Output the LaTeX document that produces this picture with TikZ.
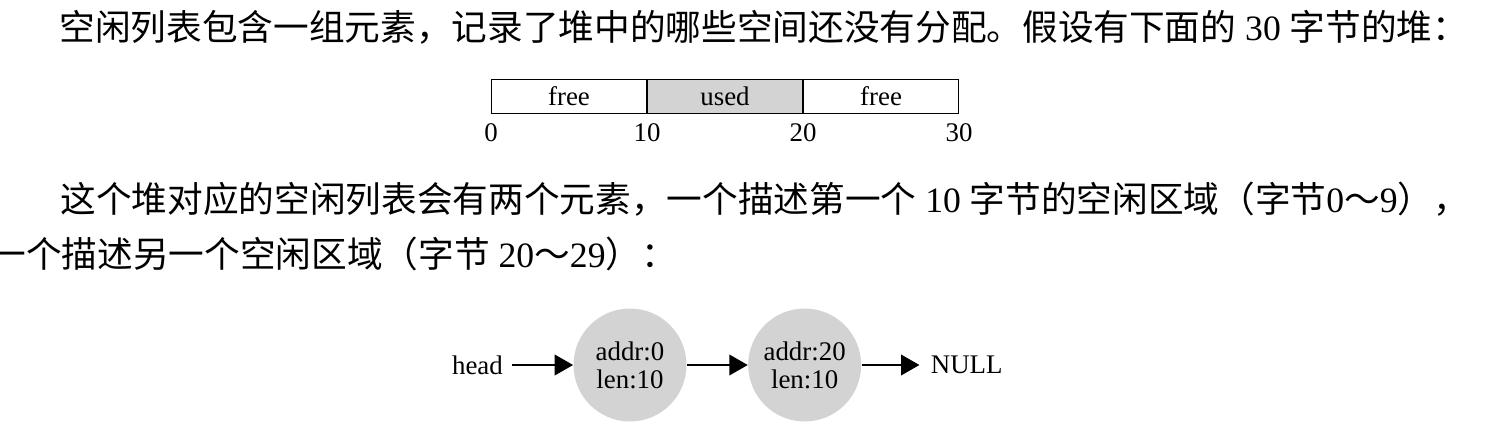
\documentclass[tikz,border=0pt]{standalone}
\usepackage{fontspec}
\setmainfont{Liberation Serif}
\newfontfamily\cjk{Noto Sans CJK SC}
\usetikzlibrary{arrows.meta,positioning}
\definecolor{cellgray}{RGB}{211,211,211}

\begin{document}
\begin{tikzpicture}[x=0.02cm, y=-0.02cm]
        \tikzstyle{every node}=[inner sep=0pt, font=\fontsize{15.3}{15.9}\selectfont]
        \tikzstyle{cell}=[draw, line width=0.6pt, minimum width=3.1cm, minimum height=0.68cm]
        \tikzstyle{blk}=[circle, fill=cellgray, minimum size=2.26cm, align=center]
        \tikzstyle{link}=[line width=1.7pt, -{Triangle[length=10.5pt,width=11.5pt]}]
        \tikzstyle{para}=[anchor=base west, font=\fontsize{20.3}{24}\selectfont]
        \useasboundingbox (0,0) rectangle (1512,436);
        % text lines
        \node [para] (line1) at (59,40) {{\cjk 空闲列表包含一组元素，记录了堆中的哪些空间还没有分配。假设有下面的} 30 {\cjk 字节的堆：}};
        \node [para] (line2) at (60,212) {{\cjk 这个堆对应的空闲列表会有两个元素，一个描述第一个} 10 {\cjk 字节的空闲区域（字节}0{\cjk ～}9{\cjk ），}};
        \node [para] (line3) at (-10,267) {{\cjk 一个描述另一个空闲区域（字节} 20{\cjk ～}29{\cjk ）：}};
        % heap
        \node [cell, anchor=north west] (free1) at (491,79) {free};
        \node [cell, fill=cellgray, right=0pt of free1] (used) {used};
        \node [cell, right=0pt of used] (free2) {free};
        \node [below=5pt of free1.south west] (n0) {0};
        \node [below=5pt of free1.south east] (n10) {10};
        \node [below=5pt of used.south east] (n20) {20};
        \node [below=5pt of free2.south east] (n30) {30};
        % free list
        \node [blk] (b1) at (630,365) {addr:0\\len:10};
        \node [blk, right=1.22cm of b1] (b2) {addr:20\\len:10};
        \node [left=1.4cm of b1] (head) {head};
        \node [right=1.38cm of b2] (null) {NULL};
        \draw [link, shorten <=0.18cm] (head) -- (b1);
        \draw [link] (b1) -- (b2);
        \draw [link, shorten >=0.22cm] (b2) -- (null);
\end{tikzpicture}
\end{document}
